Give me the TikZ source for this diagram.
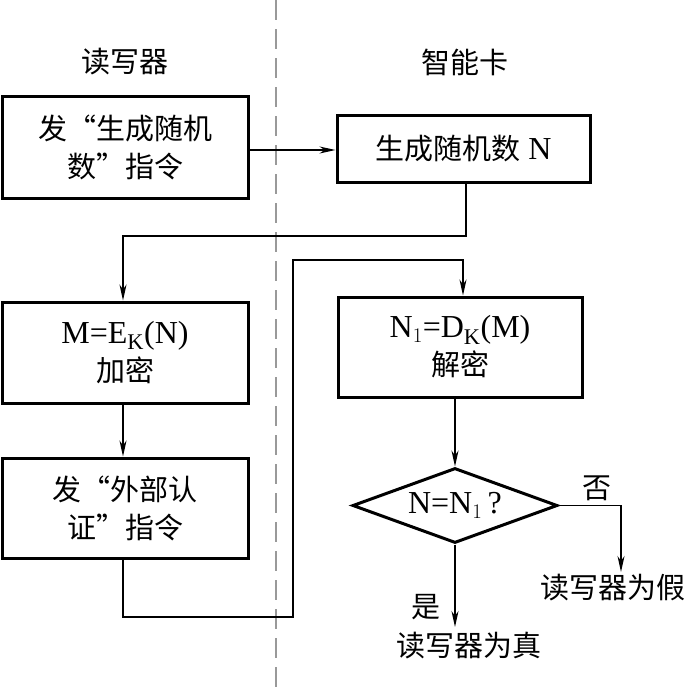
\documentclass[tikz,border=0pt]{standalone}
\usepackage{fontspec}
\setmainfont{Liberation Serif}
\newfontfamily\cjk{Noto Sans CJK SC}
\newcommand\zh[1]{{\cjk\fontsize{29}{38}\selectfont #1}}
\usetikzlibrary{arrows.meta,shapes.geometric}
\tikzset{
  boxnode/.style={draw,line width=3pt,minimum width=#1,inner sep=0pt,align=center,font=\fontsize{32}{38}\selectfont},
  conn/.style={line width=1.4pt},
  tip/.style={conn,-{Stealth[length=16pt,width=7pt,inset=5pt]}},
  lbl/.style={inner sep=0pt,font=\fontsize{29}{34}\selectfont\cjk}
}
\begin{document}
\begin{tikzpicture}[x=1pt,y=-1pt]
\useasboundingbox (0,0) rectangle (694,694);
% divider
\draw[gray!80,line width=1.3pt,dash pattern=on 20pt off 9pt] (276,0) -- (276,694);
% titles
\node[lbl] (t1) at (125,62) {读写器};
\node[lbl] (t2) at (465,62) {智能卡};
% boxes
\node[boxnode=246pt,minimum height=102pt] (b1) at (125,147) {\zh{发“生成随机}\\\zh{数”指令}};
\node[boxnode=253pt,minimum height=67pt] (b2) at (463.5,148.5) {\zh{生成随机数} N};
\node[boxnode=246pt,minimum height=101pt] (b3) at (125,352.5) {M=E$_{\mathrm{K}}$(N)\\\zh{加密}};
\node[boxnode=246pt,minimum height=100pt] (b4) at (125,508) {\zh{发“外部认}\\\zh{证”指令}};
\node[boxnode=244pt,minimum height=100pt] (b5) at (460,347) {N$_{1}$=D$_{\mathrm{K}}$(M)\\\zh{解密}};
\node[draw,line width=3pt,diamond,inner sep=0pt,minimum width=205pt,minimum height=75pt,aspect=2.7,font=\fontsize{32}{36}\selectfont] (d) at (455,505.5) {N=N$_{1}$\,?};
% outcome labels
\node[lbl] (no) at (597,488) {否};
\node[lbl] (fake) at (613,588) {读写器为假};
\node[lbl] (yes) at (426,607) {是};
\node[lbl] (real) at (469,646) {读写器为真};
% helper coordinates
\coordinate (c1) at (466,236);
\coordinate (c2) at (123,236);
\coordinate (c3) at (123,617);
\coordinate (c4) at (293,617);
\coordinate (c5) at (293,260);
\coordinate (c6) at (463,260);
\coordinate (c7) at (621,505.5);
\coordinate (c8) at (621,572);
\coordinate (c9) at (455,627);
% connectors
\draw[tip] (b1.east |- 0,150) -- (b2.west |- 0,150);
\draw[tip] (b2.south -| c1) -- (c1) -- (c2) -- (b3.north -| c2);
\draw[tip] (b3.south -| c2) -- (b4.north -| c2);
\draw[tip] (b4.south -| c3) -- (c3) -- (c4) -- (c5) -- (c6) -- (b5.north -| c6);
\draw[tip] (b5.south -| d.north) -- (d.north);
\draw[tip] (d.east) -- (c7) -- (c8);
\draw[tip] (d.south) -- (c9);
\end{tikzpicture}
\end{document}
